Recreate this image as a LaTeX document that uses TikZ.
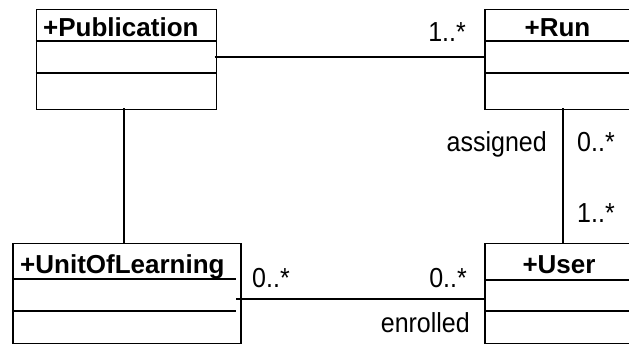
\documentclass[tikz,border=0pt]{standalone}
\usepackage{fontspec}
\usepackage{graphicx}
\setmainfont{Liberation Sans}
\newcommand{\talltxt}[1]{\scalebox{1}[1.1]{#1}}
\begin{document}
\begin{tikzpicture}[x=1pt,y=1pt,
  cls/.style={draw=black,line width=1.5pt,rectangle,inner sep=0pt,anchor=north west},
  sep/.style={line width=1.5pt},
  conn/.style={line width=1.5pt},
  lbl/.style={inner sep=0pt,font=\fontsize{25}{29}\selectfont},
  hdr/.style={inner sep=0pt,font=\fontsize{26}{30}\selectfont\bfseries}]
\useasboundingbox (0,0) rectangle (629,345);
\clip (0,0) rectangle (629,345);
% class boxes
\node[cls,minimum width=180pt,minimum height=100pt] (pub) at (35.7,336) {};
\node[cls,minimum width=156pt,minimum height=100pt] (run) at (484,336) {};
\node[cls,minimum width=228pt,minimum height=100pt] (uol) at (12,102) {};
\node[cls,minimum width=156pt,minimum height=100pt] (user) at (484,102) {};
% compartment lines
\draw[sep] (pub.north west|-0,304) -- (pub.north east|-0,304);
\draw[sep] (pub.north west|-0,272) -- (pub.north east|-0,272);
\draw[sep] (run.north west|-0,304) -- (run.north east|-0,304);
\draw[sep] (run.north west|-0,272) -- (run.north east|-0,272);
\draw[sep] (uol.north west|-0,66) -- (236,66);
\draw[sep] (uol.north west|-0,34) -- (236,34);
\draw[sep] (user.north west|-0,65) -- (user.north east|-0,65);
\draw[sep] (user.north west|-0,34) -- (user.north east|-0,34);
% headers
\node[hdr,anchor=base west] (pubt) at (43,308.5) {+Publication};
\node[hdr,anchor=base] (runt) at (557.5,308.5) {+Run};
\node[hdr,anchor=base west] (uolt) at (20,71.7) {+UnitOfLearning};
\node[hdr,anchor=base] (usert) at (559,71.7) {+User};
% connectors
\coordinate (pubR) at ([xshift=-2.5pt]pub.east|-0,288);
\coordinate (runL) at (run.west|-0,288);
\draw[conn] (pubR) -- (runL);
\coordinate (pubB) at ([yshift=2pt]pub.south -| 124,0);
\coordinate (uolT) at (uol.north -| 124,0);
\draw[conn] (pubB) -- (uolT);
\coordinate (runB) at ([yshift=2pt]run.south);
\draw[conn] (runB) -- (user.north);
\coordinate (uolR) at (236,46);
\coordinate (userL) at (user.west|-0,46);
\draw[conn] (uolR) -- (userL);
% labels
\node[lbl,anchor=base east] (m1) at (466,303) {\talltxt{1..*}};
\node[lbl,anchor=base east] (as) at (547,193.3) {\talltxt{assigned}};
\node[lbl,anchor=base west] (m2) at (577,193.3) {\talltxt{0..*}};
\node[lbl,anchor=base west] (m3) at (577,122) {\talltxt{1..*}};
\node[lbl,anchor=base west] (m4) at (252,57) {\talltxt{0..*}};
\node[lbl,anchor=base east] (m5) at (467,57) {\talltxt{0..*}};
\node[lbl,anchor=base east] (en) at (470,12) {\talltxt{enrolled}};
\end{tikzpicture}
\end{document}
